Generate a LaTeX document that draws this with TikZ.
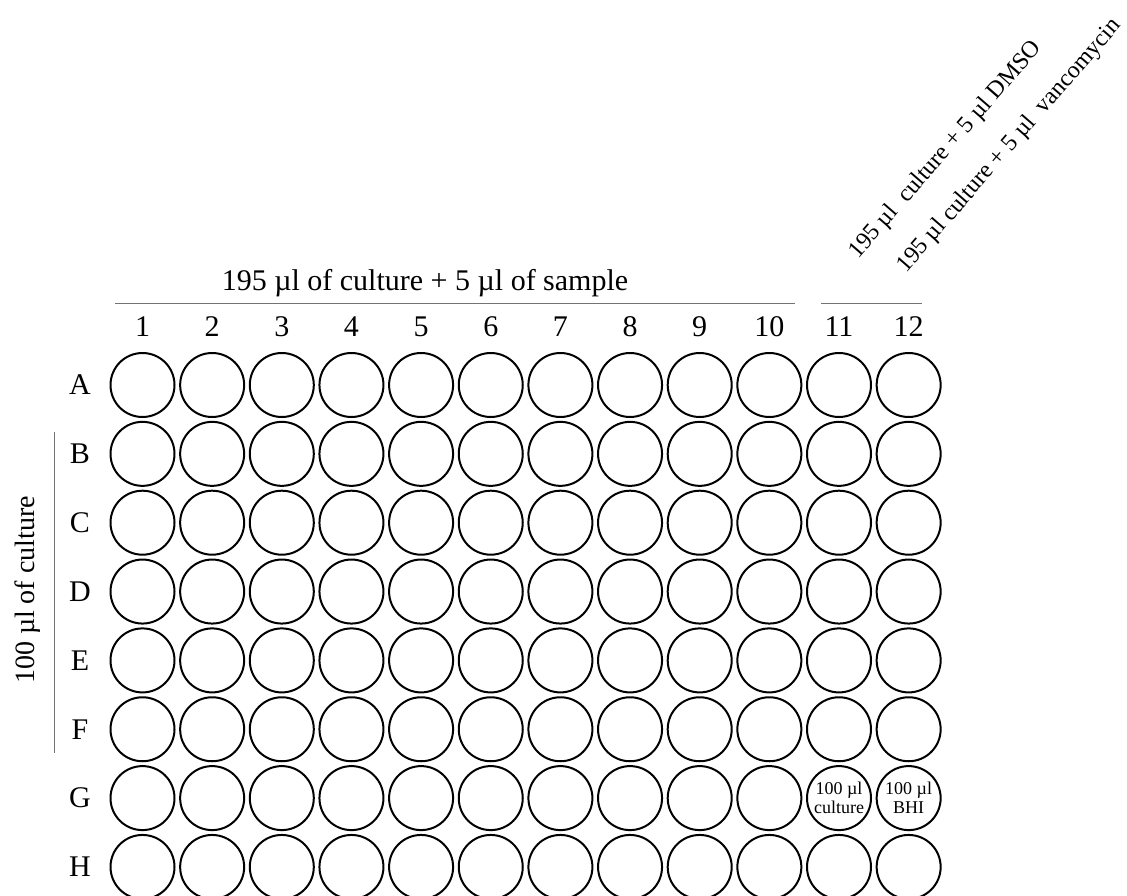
\documentclass[tikz,border=0pt]{standalone}
\usepackage{fontspec}
\setmainfont{Liberation Serif}
\begin{document}
\begin{tikzpicture}[x=1pt,y=-1pt,
  well/.style={circle,draw,line width=2pt,minimum size=64pt,inner sep=0pt},
  lab/.style={font=\fontsize{30}{36}\selectfont,inner sep=0pt},
  diag/.style={font=\fontsize{24}{29}\selectfont,inner sep=0pt,rotate=49,anchor=base west},
  small/.style={font=\fontsize{18}{19}\selectfont,align=center,inner sep=0pt},
  rule/.style={draw=black!55,line width=1pt}]
\useasboundingbox (0,0) rectangle (1127,896);
\foreach \r [count=\i from 0] in {A,B,C,D,E,F,G,H} {
  \node[lab] (row-\r) at (80, {385+\i*68.85}) {\r};
  \foreach \c in {1,...,12} {
    \node[well] (w-\r-\c) at ({142.5+(\c-1)*69.65}, {385+\i*68.85}) {};
  }
}
\foreach \c in {1,...,12} {
  \node[lab] (col-\c) at ({142.5+(\c-1)*69.65},327) {\c};
}
\node[small] (t-G-11) at (w-G-11) {100 µl\\culture};
\node[small] (t-G-12) at (w-G-12) {100 µl\\BHI};
\node[lab,anchor=base] (title) at (425,290) {195 µl of culture + 5 µl of sample};
\node[lab,font=\fontsize{28}{34}\selectfont,rotate=90,anchor=base] (left) at (34,590) {100 µl of culture};
\coordinate (l1a) at (115,303);
\coordinate (l1b) at (795,303);
\coordinate (l2a) at (821,303);
\coordinate (l2b) at (922,303);
\coordinate (l3a) at (54,432);
\coordinate (l3b) at (54,753);
\draw[rule] (l1a) -- (l1b);
\draw[rule] (l2a) -- (l2b);
\draw[rule] (l3a) -- (l3b);
\node[diag] (d1) at (858,260) {195 µl\ \ culture + 5 µl DMSO};
\node[diag] (d2) at (906,274) {195 µl culture + 5 µl\ \ vancomycin};
\end{tikzpicture}
\end{document}
